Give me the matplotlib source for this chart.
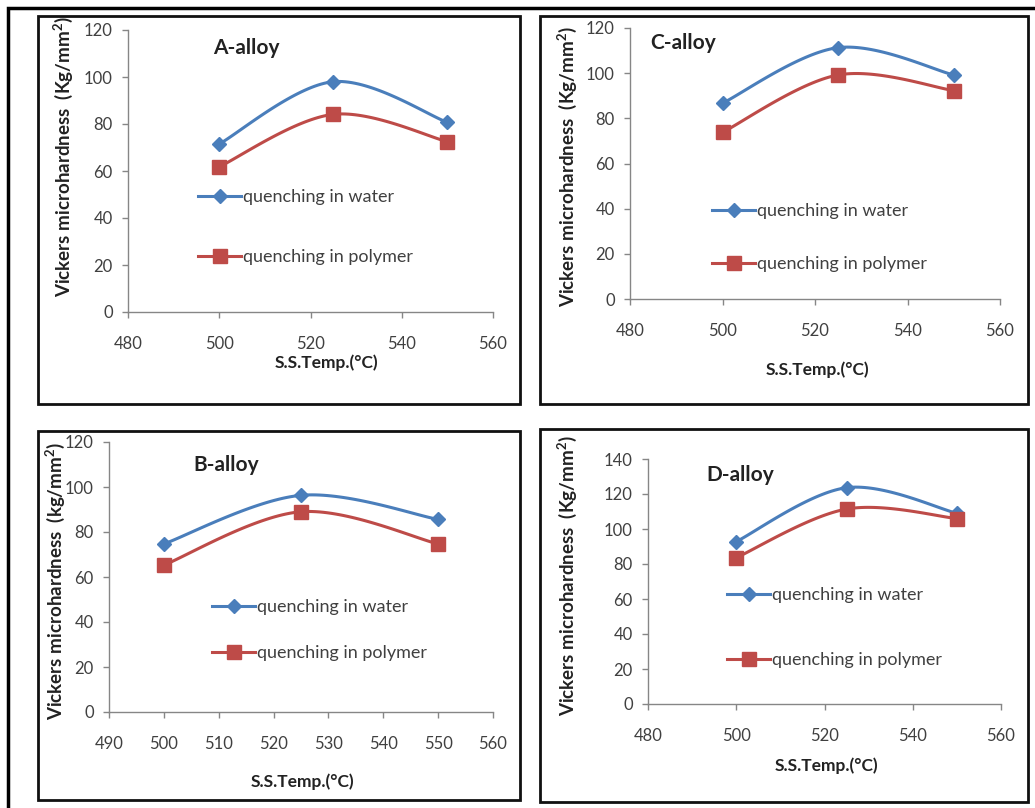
import matplotlib.pyplot as plt
import numpy as np
from matplotlib.patches import Rectangle

plt.rcParams['font.family'] = ['Lato', 'DejaVu Sans']
plt.rcParams['mathtext.fontset'] = 'custom'
plt.rcParams['mathtext.rm'] = 'Lato'
plt.rcParams['mathtext.bf'] = 'Lato:bold'

temps = [500, 525, 550]

water_A = [71.5, 98, 80.7]
polymer_A = [61.8, 84.1, 72.5]
water_C = [86.7, 111.3, 99.2]
polymer_C = [73.8, 99.2, 92.3]
water_B = [74.7, 96.3, 85.6]
polymer_B = [65.3, 89, 74.7]
water_D = [92.8, 123.6, 109]
polymer_D = [83.6, 111.4, 106]

label_water = "quenching in water"
label_polymer = "quenching in polymer"

W, H = 1035, 808
blue = '#4A7EBB'
red = '#BE4B48'
grey_txt = '#404040'
grey_ax = '#868686'


def smooth(x, y, n=40):
    # excel-like smoothed line (catmull-rom as cubic bezier)
    x = np.asarray(x, float)
    y = np.asarray(y, float)
    px = np.concatenate([[x[0]], x, [x[-1]]])
    py = np.concatenate([[y[0]], y, [y[-1]]])
    xs, ys = [], []
    t = np.linspace(0, 1, n)
    for i in range(1, len(px) - 2):
        p0 = np.array([px[i], py[i]])
        p3 = np.array([px[i + 1], py[i + 1]])
        p1 = p0 + (p3 - np.array([px[i - 1], py[i - 1]])) / 6
        p2 = p3 - (np.array([px[i + 2], py[i + 2]]) - p0) / 6
        b = ((1 - t) ** 3)[:, None] * p0 + (3 * (1 - t) ** 2 * t)[:, None] * p1 \
            + (3 * (1 - t) * t ** 2)[:, None] * p2 + (t ** 3)[:, None] * p3
        xs.extend(b[:, 0])
        ys.extend(b[:, 1])
    return xs, ys


fig = plt.figure(figsize=(W / 100, H / 100), dpi=100)


def px_rect(x0, y0, x1, y1):
    return [x0 / W, 1 - y1 / H, (x1 - x0) / W, (y1 - y0) / H]


panels = [
    dict(ax=(128, 30, 493, 312), xlim=(480, 560), xt=range(480, 561, 20), ylim=(0, 120), yt=range(0, 121, 20),
         w=water_A, p=polymer_A, title='A-alloy', tpos=(246, 48), unit='Kg', ylpos=(63, 157), xlpos=(326, 363),
         leg=(198, 197, 257)),
    dict(ax=(630, 28, 1000, 299), xlim=(480, 560), xt=range(480, 561, 20), ylim=(0, 120), yt=range(0, 121, 20),
         w=water_C, p=polymer_C, title='C-alloy', tpos=(683, 43), unit='Kg', ylpos=(567, 167), xlpos=(817, 370),
         leg=(712, 211, 264)),
    dict(ax=(109, 442, 493, 712), xlim=(490, 560), xt=range(490, 561, 10), ylim=(0, 120), yt=range(0, 121, 20),
         w=water_B, p=polymer_B, title='B-alloy', tpos=(226, 465), unit='kg', ylpos=(55, 581), xlpos=(302, 782),
         leg=(212, 607, 653)),
    dict(ax=(648, 459, 1001, 704), xlim=(480, 560), xt=range(480, 561, 20), ylim=(0, 140), yt=range(0, 141, 20),
         w=water_D, p=polymer_D, title='D-alloy', tpos=(740, 475), unit='Kg', ylpos=(567, 576), xlpos=(826, 766),
         leg=(727, 595, 660)),
]

for pn in panels:
    ax = fig.add_axes(px_rect(*pn['ax']))
    ax.set_xlim(*pn['xlim'])
    ax.set_ylim(*pn['ylim'])
    ax.set_xticks(list(pn['xt']))
    ax.set_yticks(list(pn['yt']))
    for s in ['top', 'right']:
        ax.spines[s].set_visible(False)
    for s in ['left', 'bottom']:
        ax.spines[s].set_color(grey_ax)
        ax.spines[s].set_linewidth(1.0)
    ax.tick_params(axis='both', colors=grey_ax, labelcolor=grey_txt, labelsize=12, length=4, width=1, direction='out')
    ax.tick_params(axis='x', pad=13)
    ax.tick_params(axis='y', pad=7)

    sx, sy = smooth(temps, pn['w'])
    ax.plot(sx, sy, color=blue, lw=2.2, solid_capstyle='round', clip_on=False)
    ax.plot(temps, pn['w'], color=blue, marker='D', markersize=7,
            markerfacecolor=blue, markeredgecolor=blue, linestyle='None', clip_on=False)
    sx, sy = smooth(temps, pn['p'])
    ax.plot(sx, sy, color=red, lw=2.2, solid_capstyle='round', clip_on=False)
    ax.plot(temps, pn['p'], color=red, marker='s', markersize=10,
            markerfacecolor=red, markeredgecolor=red, linestyle='None', clip_on=False)

    # legend handles with line + marker
    lw_h, = ax.plot([], [], color=blue, lw=2.2, marker='D', markersize=7)
    lp_h, = ax.plot([], [], color=red, lw=2.2, marker='s', markersize=10)
    lx, ly1, ly2 = pn['leg']
    l1 = ax.legend([lw_h], [label_water], loc='center left', bbox_to_anchor=(lx / W, 1 - ly1 / H),
                   bbox_transform=fig.transFigure, frameon=False, fontsize=13, borderpad=0, borderaxespad=0,
                   handlelength=2.4, handletextpad=0.1, labelcolor=grey_txt)
    ax.add_artist(l1)
    ax.legend([lp_h], [label_polymer], loc='center left', bbox_to_anchor=(lx / W, 1 - ly2 / H),
              bbox_transform=fig.transFigure, frameon=False, fontsize=13, borderpad=0, borderaxespad=0,
              handlelength=2.4, handletextpad=0.1, labelcolor=grey_txt)

    fig.text(pn['tpos'][0] / W, 1 - pn['tpos'][1] / H, pn['title'], fontsize=15, fontweight='bold',
             color='#222222', ha='center', va='center')
    fig.text(pn['ylpos'][0] / W, 1 - pn['ylpos'][1] / H,
             'Vickers microhardness  (' + pn['unit'] + '/mm$^{\\mathbf{2}}$)', fontsize=13.5, fontweight='bold',
             color='#222222', ha='center', va='center', rotation=90)
    fig.text(pn['xlpos'][0] / W, 1 - pn['xlpos'][1] / H, 'S.S.Temp.(\u00b0C)', fontsize=12.5, fontweight='bold',
             color='#222222', ha='center', va='center')

# panel boxes
boxes = [(38, 16, 520, 404), (540, 16, 1028, 404), (38, 431, 520, 800), (540, 429, 1028, 802)]
for x0, y0, x1, y1 in boxes:
    fig.patches.append(Rectangle((x0 / W, 1 - y1 / H), (x1 - x0) / W, (y1 - y0) / H,
                                 transform=fig.transFigure, fill=False, edgecolor='#111111', lw=2.0))

# outer border
fig.patches.append(Rectangle((8 / W, -0.05), 1.05, 1 - 8 / H + 0.05, transform=fig.transFigure,
                             fill=False, edgecolor='black', lw=2.5, clip_on=False))

fig.savefig('out.png', dpi=100)
